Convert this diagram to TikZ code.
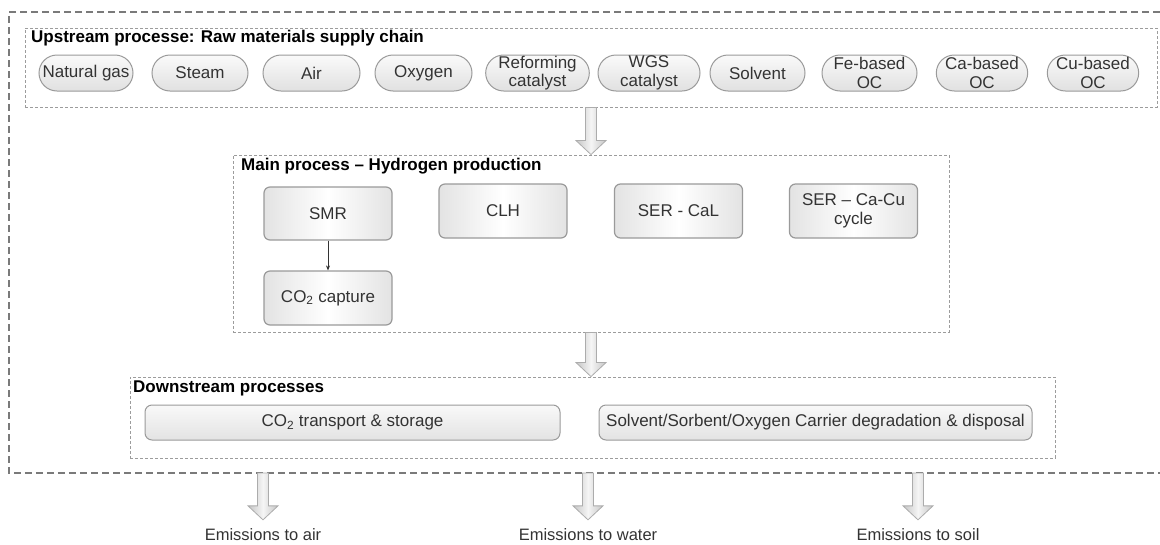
\documentclass[tikz,border=0pt]{standalone}
\usepackage{fontspec}
\setmainfont{Liberation Sans}
\usetikzlibrary{shapes.misc,arrows.meta,calc}
\definecolor{txt}{HTML}{333333}
\definecolor{bord}{HTML}{9A9A9A}
\definecolor{dashc}{HTML}{9C9C9C}
\definecolor{outerc}{HTML}{7A7A7A}
\newcommand\blockarrow[2]{%
  \path[bigarrow] let \p1=(#1), \p2=(#2) in
    (\x1-5.5pt,\y1) -- (\x1+5.5pt,\y1) -- (\x1+5.5pt,\y2+14pt) -- (\x1+15pt,\y2+14pt)
    -- (\x1,\y2) -- (\x1-15pt,\y2+14pt) -- (\x1-5.5pt,\y2+14pt) -- cycle;}
\begin{document}
\begin{tikzpicture}[x=1pt,y=-1pt,
  every node/.style={font=\fontsize{17}{19}\selectfont, text=txt},
  pill/.style={rounded rectangle, draw=bord, line width=1pt, top color=gray!4, bottom color=gray!24,
    minimum height=36pt, inner sep=0pt, align=center, font=\fontsize{17}{18.5}\selectfont},
  procbox/.style={rounded corners=6pt, draw=bord, line width=1.2pt, left color=gray!22, right color=gray!22,
    middle color=white, minimum width=128pt, minimum height=54pt, inner sep=0pt, align=center},
  dsbox/.style={rounded corners=7pt, draw=bord, line width=1pt, top color=gray!5, bottom color=gray!22,
    minimum height=35pt, inner sep=0pt},
  group/.style={draw=dashc, dash pattern=on 3pt off 2pt, line width=0.9pt, inner sep=0pt},
  outerline/.style={draw=outerc, dash pattern=on 7pt off 4pt, line width=1.2pt},
  title/.style={font=\bfseries\fontsize{17}{19}\selectfont, text=black, anchor=base west, inner sep=0pt},
  emis/.style={anchor=base, inner sep=0pt, text=txt, font=\fontsize{16.5}{19}\selectfont},
  bigarrow/.style={draw=gray!65, line width=0.8pt, left color=gray!45, right color=gray!45, middle color=gray!8},
  thinarrow/.style={-{Stealth[length=5pt,width=4pt]}, draw=gray!40!black, line width=0.6pt},
]
\useasboundingbox (0,0) rectangle (1160,544);

% outer dashed frame (open to the right)
\draw[outerline] (1160,12) -- (9,12) -- (9,473) -- (1160,473);
\coordinate (outbot) at (9,473);

% group boxes
\node[group, minimum width=1132pt, minimum height=79pt] (up) at (591,67.5) {};
\node[group, minimum width=716pt, minimum height=177pt] (main) at (591,243.5) {};
\node[group, minimum width=925pt, minimum height=81pt] (down) at (592.5,417.5) {};

\node[title] (tup) at (31,42) {Upstream processe: Raw materials supply chain};
\node[title] (tmain) at (241,170) {Main process – Hydrogen production};
\node[title] (tdown) at (133,392) {Downstream processes};

% upstream pills
\node[pill, minimum width=94pt] (ng) at (86,73) {Natural gas};
\node[pill, minimum width=96pt] (steam) at (200,73) {Steam};
\node[pill, minimum width=97pt] (air) at (311.5,73) {Air};
\node[pill, minimum width=97pt] (oxy) at (423.5,73) {Oxygen};
\node[pill, minimum width=101pt] (ref) at (537.5,73) {Reforming\\catalyst};
\node[pill, minimum width=102pt] (wgs) at (649,73) {WGS\\catalyst};
\node[pill, minimum width=95pt] (solv) at (757.5,73) {Solvent};
\node[pill, minimum width=95pt] (fe) at (869.5,73) {Fe-based\\OC};
\node[pill, minimum width=90pt] (ca) at (982,73) {Ca-based\\OC};
\node[pill, minimum width=90pt] (cu) at (1093,73) {Cu-based\\OC};

% main process boxes
\node[procbox, minimum height=53pt] (smr) at (328,213.5) {SMR};
\node[procbox] (clh) at (503,211) {CLH};
\node[procbox] (cal) at (678.5,211) {SER - CaL};
\node[procbox] (cacu) at (853.5,211) {SER – Ca-Cu\\cycle};
\node[procbox] (cap) at (328,298) {CO\textsubscript{2} capture};
\draw[thinarrow] (smr) -- (cap);

% downstream boxes
\node[dsbox, minimum width=415pt] (tsp) at (352.5,422.5) {CO\textsubscript{2} transport \& storage};
\node[dsbox, minimum width=433pt] (deg) at (815.5,422.5) {Solvent/Sorbent/Oxygen Carrier degradation \& disposal};

% emissions
\node[emis] (e1) at (263,540) {Emissions to air};
\node[emis] (e2) at (588,540) {Emissions to water};
\node[emis] (e3) at (918,540) {Emissions to soil};

% block arrows
\blockarrow{up.south -| main.north}{main.north}
\blockarrow{main.south}{main.south |- down.north}
\blockarrow{outbot -| e1.north}{[yshift=8pt]e1.north}
\blockarrow{outbot -| e2.north}{[yshift=8pt]e2.north}
\blockarrow{outbot -| e3.north}{[yshift=8pt]e3.north}
\end{tikzpicture}
\end{document}
